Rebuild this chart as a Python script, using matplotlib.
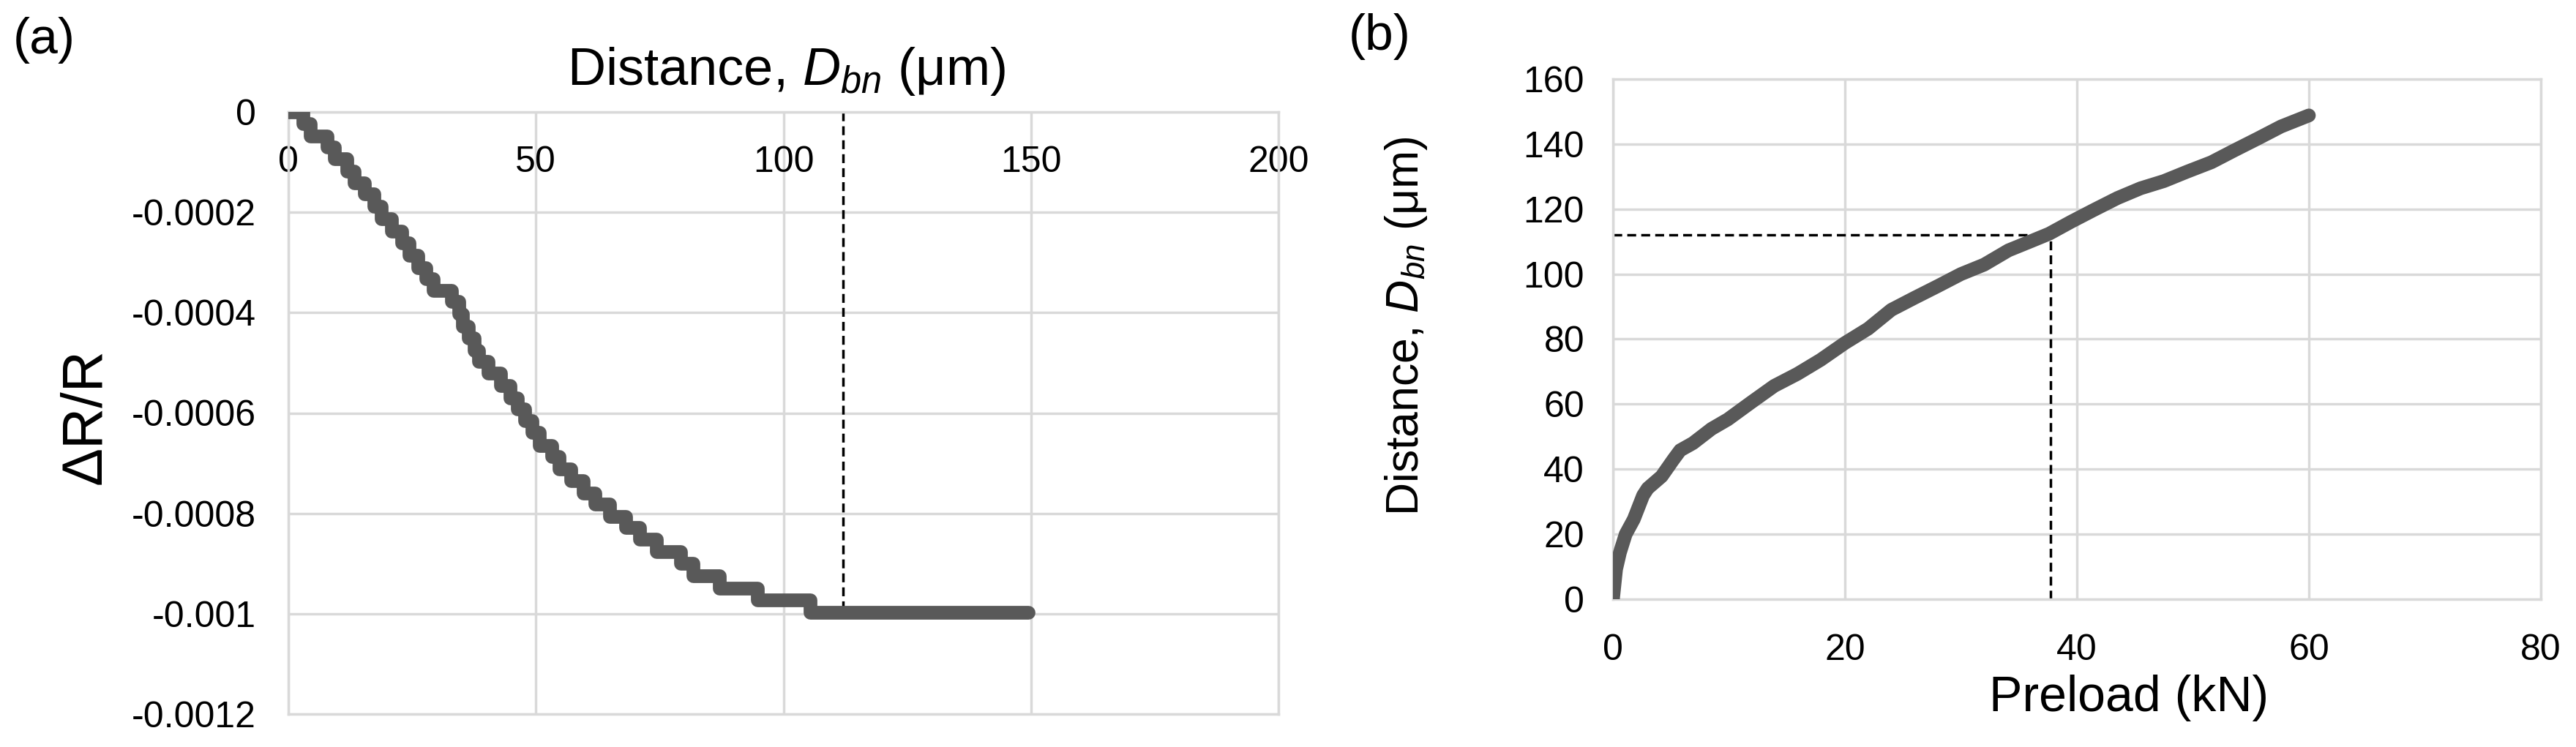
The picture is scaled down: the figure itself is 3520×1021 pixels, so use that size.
import matplotlib.pyplot as plt

# ---- panel (a): dR/R vs distance (step start positions) ----
dist_a = [0, 2.9, 4.5, 7.8, 9.3, 11.8, 13.3, 15.4, 17.3, 18.8, 20.9, 22.9, 24.4,
          26.1, 27.8, 29.3, 33.0, 34.4, 35.2, 36.4, 37.6, 38.5, 40.4, 42.8, 44.8,
          46.3, 47.8, 49.2, 50.7, 53.2, 54.7, 57.1, 59.6, 62.0, 64.9, 68.2, 71.0,
          74.4, 79.3, 81.8, 87.0, 94.8, 105.4, 149.5]
drr_a = [0, -0.000024, -0.000048, -0.000070, -0.000094, -0.000118, -0.000142,
         -0.000164, -0.000188, -0.000213, -0.000237, -0.000261, -0.000286,
         -0.000310, -0.000332, -0.000356, -0.000378, -0.000403, -0.000427,
         -0.000451, -0.000475, -0.000497, -0.000521, -0.000546, -0.000570,
         -0.000592, -0.000616, -0.000638, -0.000665, -0.000687, -0.000711,
         -0.000735, -0.000759, -0.000781, -0.000806, -0.000828, -0.000851,
         -0.000876, -0.000900, -0.000925, -0.000949, -0.000973, -0.000998,
         -0.000998]

# ---- panel (b): distance vs preload ----
preload = [0, 0.27, 0.6, 1.1, 1.8, 2.6, 3.0, 4.2, 5.2, 5.8, 6.9, 8.5, 9.9, 11.9,
           13.9, 15.9, 17.9, 20.0, 22.0, 24.0, 26.0, 28.0, 30.0, 32.0, 34.1,
           36.1, 37.6, 39.5, 41.5, 43.5, 45.5, 47.5, 49.5, 51.6, 53.6, 55.6,
           57.6, 60.0]
dist_b = [0, 9.2, 14.3, 20.0, 24.6, 31.9, 34.1, 37.8, 42.9, 45.8, 48.0, 52.4,
          55.3, 60.5, 65.6, 69.3, 73.6, 78.8, 83.2, 89.0, 92.7, 96.3, 100.0,
          102.9, 107.3, 110.2, 112.4, 116.1, 119.8, 123.4, 126.4, 128.6, 131.5,
          134.4, 138.1, 141.7, 145.4, 148.8]

d_mark = 112    # um
p_mark = 37.7   # kN

xticks_a = [0, 50, 100, 150, 200]
yticks_a = [0, -0.0002, -0.0004, -0.0006, -0.0008, -0.001, -0.0012]
xticks_b = [0, 20, 40, 60, 80]
yticks_b = [0, 20, 40, 60, 80, 100, 120, 140, 160]

line_col = '#595959'
grid_col = '#d9d9d9'
tick_fs = 36

plt.rcParams['font.family'] = ['Liberation Sans', 'DejaVu Sans']
plt.rcParams['mathtext.fontset'] = 'custom'
plt.rcParams['mathtext.rm'] = 'Liberation Sans'
plt.rcParams['mathtext.it'] = 'Liberation Sans:italic'
plt.rcParams['axes.unicode_minus'] = False

fig = plt.figure(figsize=(35.2, 10.21), dpi=100)
W, H = 3520, 1021

def box(l, t, r, b):
    return [l / W, 1 - b / H, (r - l) / W, (b - t) / H]

def style(ax):
    ax.grid(True, color=grid_col, lw=2.5)
    ax.set_axisbelow(True)
    for s in ax.spines.values():
        s.set_color(grid_col)
        s.set_linewidth(2.5)
    ax.tick_params(length=0, labelsize=tick_fs, labelcolor='black')

# (a)
ax1 = fig.add_axes(box(394, 153, 1747, 976))
style(ax1)
ax1.plot([d_mark, d_mark], [0, drr_a[-1]], color='black', lw=2.5,
         dashes=(3.5, 2), zorder=2)
ax1.plot(dist_a, drr_a, drawstyle='steps-post', color=line_col, lw=13.5,
         solid_joinstyle='round', solid_capstyle='round', zorder=3)
ax1.set_xlim(0, 200)
ax1.set_ylim(-0.0012, 0)
ax1.set_xticks(xticks_a)
ax1.set_yticks(yticks_a)
ax1.set_yticklabels(['%g' % v for v in yticks_a])
ax1.xaxis.set_ticks_position('top')
ax1.tick_params(axis='x', pad=-66)
ax1.tick_params(axis='y', pad=32)
ax1.xaxis.set_label_position('top')
ax1.set_xlabel(r'Distance, $D_{bn}$ (μm)', fontsize=52, va='center')
ax1.xaxis.set_label_coords(0.503, 1.067)
ax1.set_ylabel('ΔR/R', fontsize=56, va='center')
ax1.yaxis.set_label_coords(-0.205, 0.495)

# (b)
ax2 = fig.add_axes(box(2204, 108, 3472, 819))
style(ax2)
ax2.plot([0, p_mark], [d_mark, d_mark], color='black', lw=2.5,
         dashes=(3.5, 2), zorder=2)
ax2.plot([p_mark, p_mark], [0, d_mark], color='black', lw=2.5,
         dashes=(3.5, 2), zorder=2)
ax2.plot(preload, dist_b, color=line_col, lw=13.5,
         solid_joinstyle='round', solid_capstyle='round', zorder=3)
ax2.set_xlim(0, 80)
ax2.set_ylim(0, 160)
ax2.set_xticks(xticks_b)
ax2.set_yticks(yticks_b)
ax2.tick_params(axis='x', pad=34)
ax2.tick_params(axis='y', pad=28)
ax2.set_xlabel('Preload (kN)', fontsize=49, va='center')
ax2.xaxis.set_label_coords(0.556, -0.19)
ax2.set_ylabel(r'Distance, $D_{bn}$ (μm)', fontsize=45, va='center')
ax2.yaxis.set_label_coords(-0.223, 0.525)

fig.text(18 / W, 1 - 55 / H, '(a)', fontsize=50, ha='left', va='center')
fig.text(1843 / W, 1 - 50 / H, '(b)', fontsize=50, ha='left', va='center')

fig.savefig('out.png', dpi=100)
